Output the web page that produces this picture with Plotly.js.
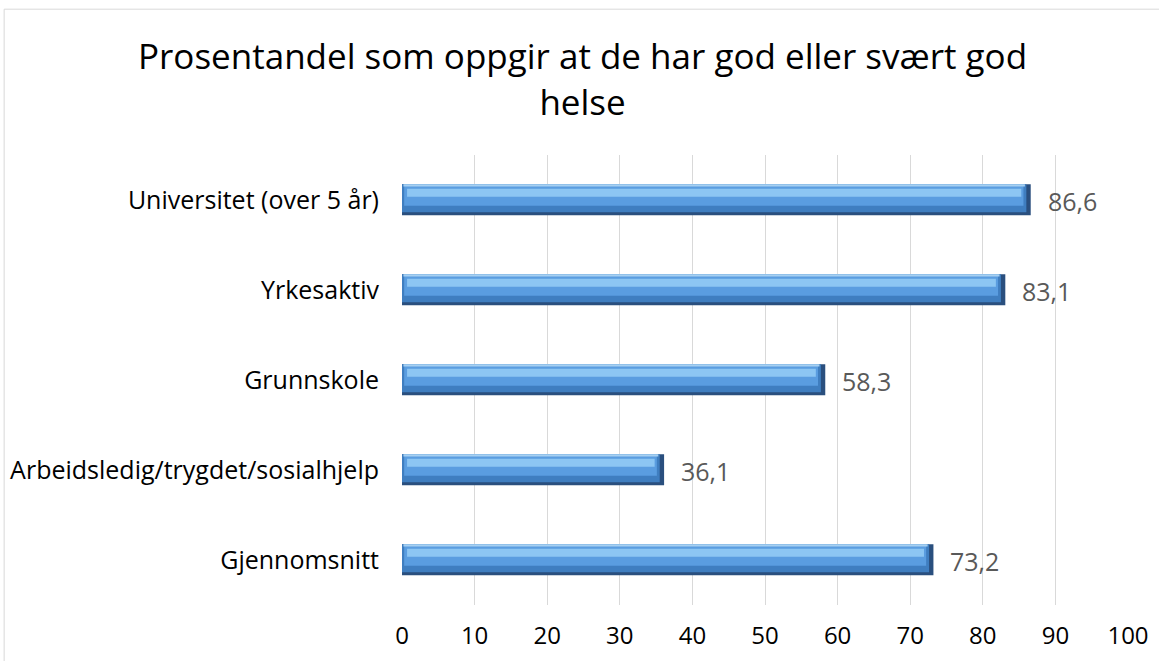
<!DOCTYPE html>
<html>
<head>
<meta charset="utf-8">
<script src="https://cdn.plot.ly/plotly-3.0.1.min.js"></script>
<style>
  html, body { margin: 0; padding: 0; background: #fff; }
  #chart { width: 1159px; height: 661px; }
</style>
</head>
<body>
<div id="chart"></div>
<script>
// Data (bottom to top, as Plotly draws horizontal bars)
const categories = [
    'Gjennomsnitt',
    'Arbeidsledig/trygdet/sosialhjelp',
    'Grunnskole',
    'Yrkesaktiv',
    'Universitet (over 5 år)'
];
const values = [73.2, 36.1, 58.3, 83.1, 86.6];
const xTicks = [0, 10, 20, 30, 40, 50, 60, 70, 80, 90, 100];

const font = '"Open Sans", Calibri, sans-serif';

// Bevelled bar look built from stacked overlay layers
// (left / right inset in axis units so the bar ends show a bevel)
function layer(width, offset, color, left, right) {
    return {
        type: 'bar', orientation: 'h',
        x: values.map(v => v - left - right), y: categories,
        base: left,
        width: width, offset: offset,
        marker: { color: color, line: { width: 0 } },
        hoverinfo: 'skip'
    };
}

const traces = [
    layer(0.345, -0.17, '#2a4f7e', 0, 0),
    layer(0.31, -0.135, '#3f7ec0', 0, 0.6),
    layer(0.24, -0.065, '#5a9de0', 0.3, 1.0),
    layer(0.09, 0.035, '#8cc6f3', 0.7, 1.3),
    layer(0.025, 0.15, '#a6d0f1', 0.2, 0.8)
];

// Value labels placed at the end of each bar
const labels = values.map((v, i) => ({
    x: v, y: categories[i],
    xref: 'x', yref: 'y',
    text: v.toFixed(1).replace('.', ','),
    showarrow: false,
    xanchor: 'left', yanchor: 'middle',
    xshift: 15, yshift: -1,
    font: { family: font, size: 25, color: '#595959' }
}));

const layout = {
    width: 1159, height: 661,
    paper_bgcolor: '#ffffff', plot_bgcolor: '#ffffff',
    margin: { l: 402, r: 31, t: 155, b: 56 },
    barmode: 'overlay',
    showlegend: false,
    xaxis: {
        range: [0, 100],
        tickvals: xTicks,
        showgrid: true, gridcolor: '#d9d9d9', gridwidth: 1,
        zeroline: false, showline: false,
        ticks: '', ticklabelstandoff: 14,
        tickfont: { family: font, size: 24, color: '#000000' },
        fixedrange: true
    },
    yaxis: {
        type: 'category',
        range: [-0.5, 4.5],
        showgrid: false, zeroline: false, showline: false,
        ticks: '', ticklabelstandoff: 22,
        tickfont: { family: font, size: 25, color: '#000000' },
        fixedrange: true
    },
    annotations: labels.concat([{
        text: 'Prosentandel som oppgir at de har god eller svært god<br>helse',
        xref: 'paper', yref: 'paper',
        x: 0.249, y: 1.171,
        xanchor: 'center', yanchor: 'middle',
        showarrow: false,
        font: { family: font, size: 35, color: '#000000' }
    }]),
    shapes: [{
        type: 'path', xref: 'paper', yref: 'paper',
        path: 'M -0.548 -0.2 L -0.548 1.324 L 1.1 1.324',
        line: { color: '#d9d9d9', width: 1 }
    }]
};

Plotly.newPlot('chart', traces, layout, { displayModeBar: false, staticPlot: true });
</script>
</body>
</html>
